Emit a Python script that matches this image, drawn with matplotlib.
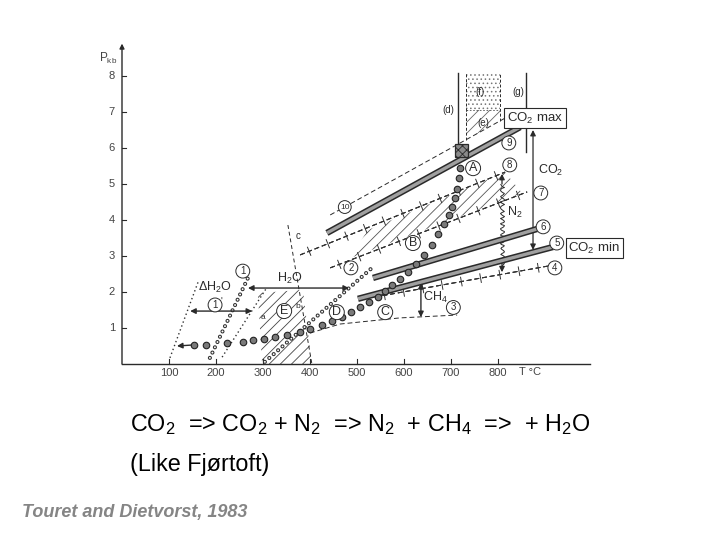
import matplotlib
matplotlib.use('Agg')
import matplotlib.pyplot as plt
from matplotlib.patches import Polygon, Rectangle
from matplotlib.lines import Line2D
import matplotlib.patheffects as pe

plt.rcParams['font.family'] = ['Liberation Sans', 'DejaVu Sans']
plt.rcParams['mathtext.fontset'] = 'custom'
plt.rcParams['mathtext.rm'] = 'Liberation Sans'
plt.rcParams['mathtext.it'] = 'Liberation Sans:italic'
plt.rcParams['mathtext.bf'] = 'Liberation Sans:bold'
plt.rcParams['hatch.linewidth'] = 0.6

INK = '#2a2a2a'

# ---------------- data (T in degC, P in kbar) ----------------
x_ticks = [100, 200, 300, 400, 500, 600, 700, 800]
y_ticks = [1, 2, 3, 4, 5, 6, 7, 8]

# thick (double) isochores
line10_T = [436, 847]; line10_P = [3.64, 6.58]
line6_T = [534, 883];  line6_P = [2.39, 3.75]
line5_T = [502, 917];  line5_P = [1.81, 3.25]
# thin dashed companion of line 10
dash10_T = [443, 815]; dash10_P = [4.14, 6.83]
# dashed lines with crosses
cross1_T = [379, 815]; cross1_P = [3.03, 5.33]
line7_T = [443, 862];  line7_P = [2.67, 4.78]
line4_T = [538, 906];  line4_P = [1.86, 2.72]
# dashed line 3
line3_T = [400, 464, 591, 713]; line3_P = [0.86, 1.11, 1.28, 1.36]
# c line
cline_T = [353, 404]; cline_P = [3.86, 0.0]
# small hollow circle lines 1 and 2
line1_T = [187, 268]; line1_P = [0.17, 2.39]
line2_T = [304, 532]; line2_P = [0.06, 2.67]
# fine dotted lines
dH2O_T = [102, 162]; dH2O_P = [0.17, 2.28]
dot3_T = [213, 306]; dot3_P = [0.19, 2.08]
# hatched N2 band
band_T = [485, 523, 815, 851]; band_P = [2.94, 3.72, 5.33, 4.75]
# hatched field E
fieldE_T = [289, 385, 404, 298]; fieldE_P = [1.97, 2.06, 0.0, 0.0]
# box / fields at top
square_T, square_P = 722, 5.93
d_T = 715; d_P = [6.14, 8.08]
e_left_T = 732; e_right_T = 804; g_T = 860
top_P = 8.08; f_bottom_P = 7.05
fieldE2_T = [732, 732, 804, 804]; fieldE2_P = [6.23, 7.05, 7.05, 6.75]
# fluid inclusion path (A-B-C-D)
dots_T = [719, 717, 713, 709, 702, 696, 685, 672, 660, 643, 626, 609, 591, 574, 560,
          545, 526, 506, 487, 468, 447, 426, 400, 379, 351, 326, 302, 279, 257, 223,
          179, 153]
dots_P = [5.44, 5.17, 4.86, 4.61, 4.36, 4.14, 3.89, 3.61, 3.31, 3.03, 2.78, 2.56, 2.36,
          2.19, 2.03, 1.86, 1.72, 1.58, 1.44, 1.31, 1.19, 1.08, 0.97, 0.89, 0.81, 0.75,
          0.69, 0.67, 0.61, 0.58, 0.53, 0.53]
dots_arrow_T = 117; dots_arrow_P = 0.50

# ---------------- figure ----------------
fig = plt.figure(figsize=(7.2, 5.4), dpi=100)
ax = fig.add_axes([0, 0, 1, 1])
ax.set_xlim(-259.57, 1272.34)
ax.set_ylim(-4.889, 10.111)
ax.axis('off')


def arrow(x1, y1, x2, y2, style='-|>', lw=0.8, ms=7, color=INK):
    ax.annotate('', xy=(x2, y2), xytext=(x1, y1),
                arrowprops=dict(arrowstyle=style, lw=lw, color=color,
                                mutation_scale=ms, shrinkA=0, shrinkB=0))


def circ(t, T, P, fs=7, pad=0.2):
    ax.text(T, P, t, ha='center', va='center', fontsize=fs, color=INK,
            bbox=dict(boxstyle='circle,pad=%g' % pad, fc='white', ec=INK, lw=0.7),
            zorder=6)


# axes
ax.plot([0, 996], [0, 0], color=INK, lw=1.0)
arrow(0, 0, 0, 8.9, style='-|>', lw=1.0, ms=7)
for t in x_ticks:
    ax.plot([t, t], [0, 0.15], color=INK, lw=0.8)
    ax.text(t, -0.25, str(t), ha='center', va='center', fontsize=8, color='#444')
for p in y_ticks:
    ax.plot([0, 9], [p, p], color=INK, lw=0.8)
    ax.text(-15, p, str(p), ha='right', va='center', fontsize=8, color='#444')
ax.text(-30, 8.5, r'P$_\mathregular{kb}$', ha='center', va='center', fontsize=8.5, color='#444')
ax.text(868, -0.22, 'T °C', ha='center', va='center', fontsize=8, color='#444')

# hatched fields
ax.add_patch(Polygon(list(zip(band_T, band_P)), closed=True, fill=False, hatch='///',
                     edgecolor='#555', lw=0))
ax.add_patch(Polygon(list(zip(fieldE_T, fieldE_P)), closed=True, fill=False, hatch='///',
                     edgecolor='#444', lw=0))
ax.add_patch(Polygon(list(zip(fieldE2_T, fieldE2_P)), closed=True, fill=False, hatch='///',
                     edgecolor='#666', lw=0))
ax.add_patch(Rectangle((e_left_T, f_bottom_P), e_right_T - e_left_T, top_P - f_bottom_P,
                       fill=False, hatch='....', edgecolor='#777', lw=0))

# top verticals
ax.plot([d_T, d_T], d_P, color=INK, lw=1.0)
ax.plot([e_left_T, e_left_T], [6.23, top_P], color=INK, lw=0.7, ls=(0, (3, 2)))
ax.plot([e_right_T, e_right_T], [6.75, top_P], color=INK, lw=0.7, ls=(0, (3, 2)))
ax.plot([e_left_T, e_right_T], [f_bottom_P, f_bottom_P], color='#555', lw=0.6, ls=(0, (2, 2)))
ax.plot([g_T, g_T], [5.89, top_P], color=INK, lw=1.0)
ax.text(694, 7.06, '(d)', ha='center', va='center', fontsize=7, color=INK)
ax.text(762, 7.56, '(f)', ha='center', va='center', fontsize=7, color=INK)
ax.text(843, 7.56, '(g)', ha='center', va='center', fontsize=7, color=INK)
ax.text(768, 6.69, '(e)', ha='center', va='center', fontsize=7, color=INK)

# c line
ax.plot(cline_T, cline_P, color=INK, lw=0.7, ls=(0, (4, 3)))
ax.text(374, 3.56, 'c', ha='center', va='center', fontsize=7, color=INK)

# thin dashed companion line
ax.plot(dash10_T, dash10_P, color=INK, lw=0.7, ls=(0, (5, 3)))

# dashed lines with crosses
cross_fx = [pe.withTickedStroke(spacing=14, angle=90, length=0.35),
            pe.withTickedStroke(spacing=14, angle=-90, length=0.35), pe.Normal()]
for T, P in [(cross1_T, cross1_P), (line7_T, line7_P), (line4_T, line4_P)]:
    ax.plot(T, P, color='#333', lw=0.7, ls=(0, (5, 3)), path_effects=cross_fx)
ax.plot(line3_T, line3_P, color=INK, lw=0.7, ls=(0, (5, 3)))

# thick double lines
thick_fx = [pe.Stroke(linewidth=4.6, foreground='#2a2a2a'), pe.Normal()]
for T, P in [(line10_T, line10_P), (line6_T, line6_P), (line5_T, line5_P)]:
    ax.plot(T, P, color='#a0a0a0', lw=2.4, solid_capstyle='butt', path_effects=thick_fx,
            zorder=4)
ax.plot(line6_T, line6_P, color='#333', lw=0, path_effects=[
    pe.withTickedStroke(spacing=12, angle=90, length=0.3),
    pe.withTickedStroke(spacing=12, angle=-90, length=0.3)], zorder=4)

# square
ax.add_patch(Rectangle((square_T - 14, square_P - 0.19), 28, 0.38, fc='#8a8a8a',
                       ec=INK, lw=0.9, hatch='xxxx', zorder=5))

# small hollow circle lines
hollow_fx = [pe.Stroke(linewidth=3.0, foreground='#333'), pe.Normal()]
for T, P in [(line1_T, line1_P), (line2_T, line2_P)]:
    ax.plot(T, P, color='white', lw=1.4, ls=(0, (0.01, 3.0)), dash_capstyle='round',
            path_effects=hollow_fx, zorder=3)

# fine dotted lines
ax.plot(dH2O_T, dH2O_P, color='#333', lw=1.0, ls=(0, (1, 2)))
ax.plot(dot3_T, dot3_P, color='#333', lw=1.0, ls=(0, (1, 2)))

# inclusion path dots
ax.scatter(dots_T, dots_P, s=22, facecolor='#7a7a7a', edgecolor='#222', lw=0.8, zorder=5)
arrow(dots_T[-1], dots_P[-1], dots_arrow_T, dots_arrow_P, lw=1.0, ms=8)

# double arrows
arrow(268, 2.11, 483, 2.11, style='<|-|>', lw=1.0, ms=8)      # H2O
arrow(145, 1.47, 277, 1.47, style='<|-|>', lw=1.0, ms=8)      # 1'
arrow(874.5, 3.17, 874.5, 6.50, style='<|-|>', lw=0.9, ms=8)  # CO2
arrow(636, 1.30, 636, 2.25, style='<|-|>', lw=1.0, ms=8)      # CH4
arrow(808.5, 5.0, 808.5, 5.28, style='-|>', lw=0.9, ms=8)     # 8
arrow(808.5, 2.9, 808.5, 2.55, style='-|>', lw=0.9, ms=8)     # N2 bottom
wig = Line2D([808.5, 808.5], [2.75, 5.0], color=INK, lw=0.7)
wig.set_sketch_params(scale=2.0, length=6, randomness=2)
ax.add_line(wig)

# labels
ax.text(357, 2.39, r'H$_\mathregular{2}$O', ha='center', va='center', fontsize=9, color=INK)
ax.text(198, 2.14, r'ΔH$_\mathregular{2}$O', ha='center', va='center', fontsize=9, color=INK)
ax.text(836, 4.22, r'N$_\mathregular{2}$', ha='center', va='center', fontsize=9, color=INK)
ax.text(667, 1.86, r'CH$_\mathregular{4}$', ha='center', va='center', fontsize=9, color=INK)
ax.text(911, 5.39, r'CO$_\mathregular{2}$', ha='center', va='center', fontsize=9, color=INK)
ax.text(879, 6.83, r'CO$_\mathregular{2}$ max', ha='center', va='center', fontsize=9.5,
        color=INK, zorder=7,
        bbox=dict(boxstyle='square,pad=0.2', fc='white', ec=INK, lw=0.8))
ax.text(950, 3.22, r'CO$_\mathregular{2}$ min', ha='left', va='center', fontsize=9.5,
        color=INK, zorder=7,
        bbox=dict(boxstyle='square,pad=0.2', fc='white', ec=INK, lw=0.8))

circ('10', 474, 4.36, fs=6)
circ('9', 823, 6.14)
circ('8', 825, 5.53)
circ('7', 891, 4.75)
circ('6', 896, 3.81)
circ('5', 925, 3.36)
circ('4', 921, 2.67)
circ('3', 705, 1.57)
circ('2', 487, 2.67)
circ('1', 257, 2.58)
circ('1', 198, 1.64)
ax.text(212, 1.72, "'", ha='center', va='center', fontsize=7, color=INK)
circ('A', 747, 5.44, fs=9, pad=0.12)
circ('B', 619, 3.36, fs=9, pad=0.12)
circ('C', 560, 1.44, fs=9, pad=0.12)
circ('D', 457, 1.44, fs=9, pad=0.12)
circ('E', 345, 1.47, fs=9, pad=0.12)
ax.text(374, 1.61, 'b', ha='center', va='center', fontsize=6, color=INK)
ax.text(300, 1.28, 'a', ha='center', va='center', fontsize=6, color=INK)

# text below the diagram
fig.text(130 / 720, 1 - 425 / 540,
         r'CO$_\mathregular{2}$  => CO$_\mathregular{2}$ + N$_\mathregular{2}$  => '
         r'N$_\mathregular{2}$  + CH$_\mathregular{4}$  =>  + H$_\mathregular{2}$O',
         ha='left', va='center', fontsize=16.8, color='black')
fig.text(130 / 720, 1 - 465 / 540, '(Like Fjørtoft)', ha='left', va='center',
         fontsize=16.8, color='black')
fig.text(22 / 720, 1 - 512 / 540, 'Touret and Dietvorst, 1983', ha='left', va='center',
         fontsize=13, color='#858585', style='italic', weight='bold')

fig.savefig('out.png', dpi=100)
